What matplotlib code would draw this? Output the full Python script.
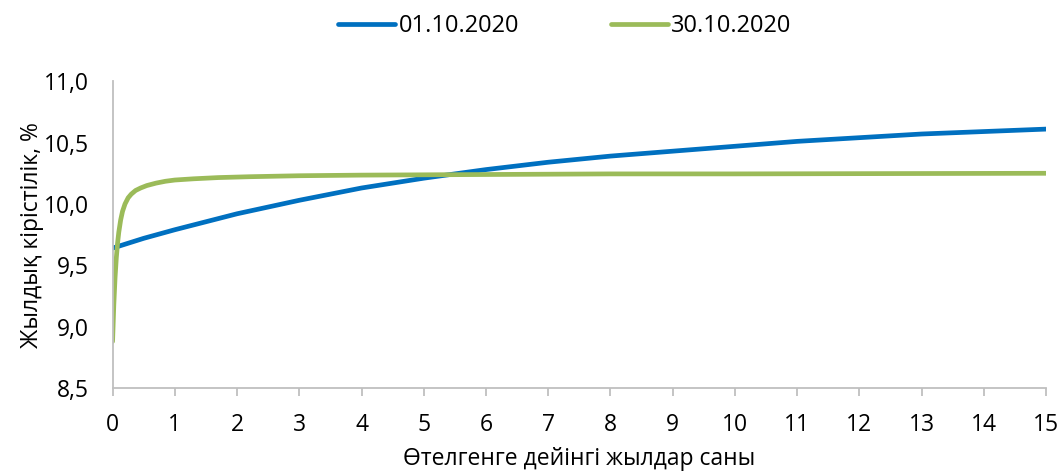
import matplotlib
matplotlib.use("Agg")
import matplotlib.pyplot as plt
from matplotlib.ticker import FuncFormatter

plt.rcParams['font.family'] = ['Open Sans', 'DejaVu Sans']

# кривая на 01.10.2020
years_1 = [0.0, 0.5, 1, 2, 3, 4, 5, 6, 7, 8, 9, 10, 11, 12, 13, 14, 15]
yield_1 = [9.64, 9.72, 9.79, 9.92, 10.03, 10.13, 10.21, 10.28, 10.34, 10.39,
           10.43, 10.47, 10.51, 10.54, 10.57, 10.59, 10.61]

# кривая на 30.10.2020
years_2 = [0.0, 0.02, 0.04, 0.06, 0.08, 0.1, 0.13, 0.16, 0.2, 0.25, 0.3, 0.37,
           0.45, 0.55, 0.7, 0.85, 1.0, 1.3, 1.7, 2.2, 3, 4, 6, 8, 10, 15]
yield_2 = [8.88, 9.18, 9.40, 9.56, 9.68, 9.77, 9.87, 9.94, 10.00, 10.05,
           10.08, 10.11, 10.13, 10.15, 10.17, 10.185, 10.195, 10.205, 10.215,
           10.222, 10.23, 10.235, 10.24, 10.245, 10.245, 10.25]

labels = ['01.10.2020', '30.10.2020']
colors = ['#0070C0', '#9BBB59']

fig = plt.figure(figsize=(10.62, 4.75), dpi=100)
ax = fig.add_axes([0.106, 0.183, 0.879, 0.646])

ax.plot(years_1, yield_1, color=colors[0], lw=3.4, label=labels[0],
        solid_capstyle='round')
ax.plot(years_2, yield_2, color=colors[1], lw=3.4, label=labels[1],
        solid_capstyle='round')

ax.set_xlim(0, 15)
ax.set_ylim(8.5, 11.0)
ax.set_xticks(range(0, 16))
ax.set_yticks([8.5, 9.0, 9.5, 10.0, 10.5, 11.0])
ax.yaxis.set_major_formatter(FuncFormatter(lambda v, p: f'{v:.1f}'.replace('.', ',')))
ax.tick_params(axis='both', labelsize=16.5, colors='#BFBFBF', labelcolor='#000000')
ax.tick_params(axis='x', length=6, width=1.3, pad=12)
ax.tick_params(axis='y', length=0, pad=17)

for s in ['top', 'right']:
    ax.spines[s].set_visible(False)
for s in ['left', 'bottom']:
    ax.spines[s].set_color('#BFBFBF')
    ax.spines[s].set_linewidth(1.3)

ax.set_xlabel('Өтелгенге дейінгі жылдар саны', fontsize=16.5, labelpad=7)
ax.set_ylabel('Жылдық кірістілік, %', fontsize=16.5, labelpad=0)

fig.legend(loc='center', bbox_to_anchor=(0.532, 0.945), ncol=2, frameon=False,
           fontsize=17, handlelength=2.4, columnspacing=3.9, handletextpad=0.15)

fig.savefig('out.png', dpi=100)
